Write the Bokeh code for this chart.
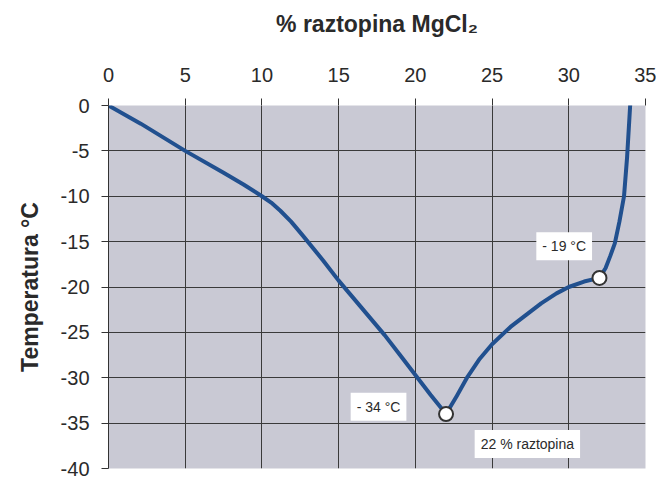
from bokeh.plotting import figure
from bokeh.models import Range1d, FixedTicker, Label
from bokeh.embed import file_html
from bokeh.resources import INLINE

# --- data ---
conc = [0, 2.1, 5, 7.5, 8.8, 10, 10.6, 11.2, 11.9, 12.6, 14.0, 15, 16.5, 18, 19, 20, 21, 22,
        22.7, 23.4, 24.2, 25, 26.2, 27.2, 28.2, 29.2, 30, 31, 32, 32.4, 32.7, 33.0,
        33.3, 33.6, 33.8, 34]
temp = [0, -2.0, -5, -7.4, -8.7, -10, -10.7, -11.6, -12.8, -14.2, -17.1, -19.3, -22.3, -25.3, -27.5, -29.7, -31.9, -34,
        -32.0, -29.9, -27.9, -26.3, -24.4, -23.1, -21.8, -20.7, -20, -19.4, -19, -17.9, -16.6, -15.2,
        -12.8, -10, -5.7, 0]
point_x = [22, 32]
point_y = [-34, -19]
x_ticks = [0, 5, 10, 15, 20, 25, 30, 35]
y_ticks = [0, -5, -10, -15, -20, -25, -30, -35, -40]
x_grid = [5, 10, 15, 20, 25, 30]
y_grid = [-5, -10, -15, -20, -25, -30, -35]
notes = ["- 19 °C", "- 34 °C", "22 % raztopina"]
note_x = [29.7, 17.6, 27.3]
note_y = [-15.5, -33.2, -37.3]

FONT = "Liberation Sans"

p = figure(width=656, height=477, x_range=Range1d(0, 35), y_range=Range1d(-40, 0),
           x_axis_location="above", output_backend="svg", toolbar_location=None,
           min_border_left=108, min_border_right=11, min_border_top=105, min_border_bottom=9)

p.background_fill_color = "#c9c9d4"
p.border_fill_color = "white"
p.outline_line_color = None

p.xgrid.ticker = FixedTicker(ticks=x_grid)
p.ygrid.ticker = FixedTicker(ticks=y_grid)
for g in (p.xgrid, p.ygrid):
    g.grid_line_color = "#3a3a3a"
    g.grid_line_width = 1

xa = p.xaxis[0]
ya = p.yaxis[0]
xa.ticker = FixedTicker(ticks=x_ticks)
ya.ticker = FixedTicker(ticks=y_ticks)
ya.major_label_overrides = {t: str(t) for t in y_ticks}
for ax in (xa, ya):
    ax.major_label_text_font = FONT
    ax.major_label_text_font_size = "20px"
    ax.major_label_text_color = "#2a2a2a"
    ax.major_tick_out = 7
    ax.major_tick_in = 0
    ax.major_tick_line_color = "#333333"
    ax.minor_tick_line_color = None
    ax.axis_label_text_font = FONT
    ax.axis_label_text_font_style = "bold"
    ax.axis_label_text_color = "#2a2a2a"

xa.axis_line_color = None
xa.major_label_standoff = 17
xa.axis_label = "% raztopina MgCl₂"
xa.axis_label_text_font_size = "23px"
xa.axis_label_standoff = 28

ya.axis_line_color = "#333333"
ya.major_label_standoff = 12
ya.axis_label = "Temperatura °C"
ya.axis_label_text_font_size = "23px"
ya.axis_label_standoff = 15

p.line(conc, temp, line_color="#21508f", line_width=4, line_join="round", line_cap="round")
p.scatter(point_x, point_y, size=14, fill_color="white", line_color="#333333", line_width=2)

for t, x, y in zip(notes, note_x, note_y):
    p.add_layout(Label(x=x, y=y, text=t, text_align="center", text_baseline="middle",
                       text_font=FONT, text_font_size="14px", text_color="#2a2a2a",
                       background_fill_color="white", padding=6))

open("out.html", "w").write(file_html(p, INLINE))
